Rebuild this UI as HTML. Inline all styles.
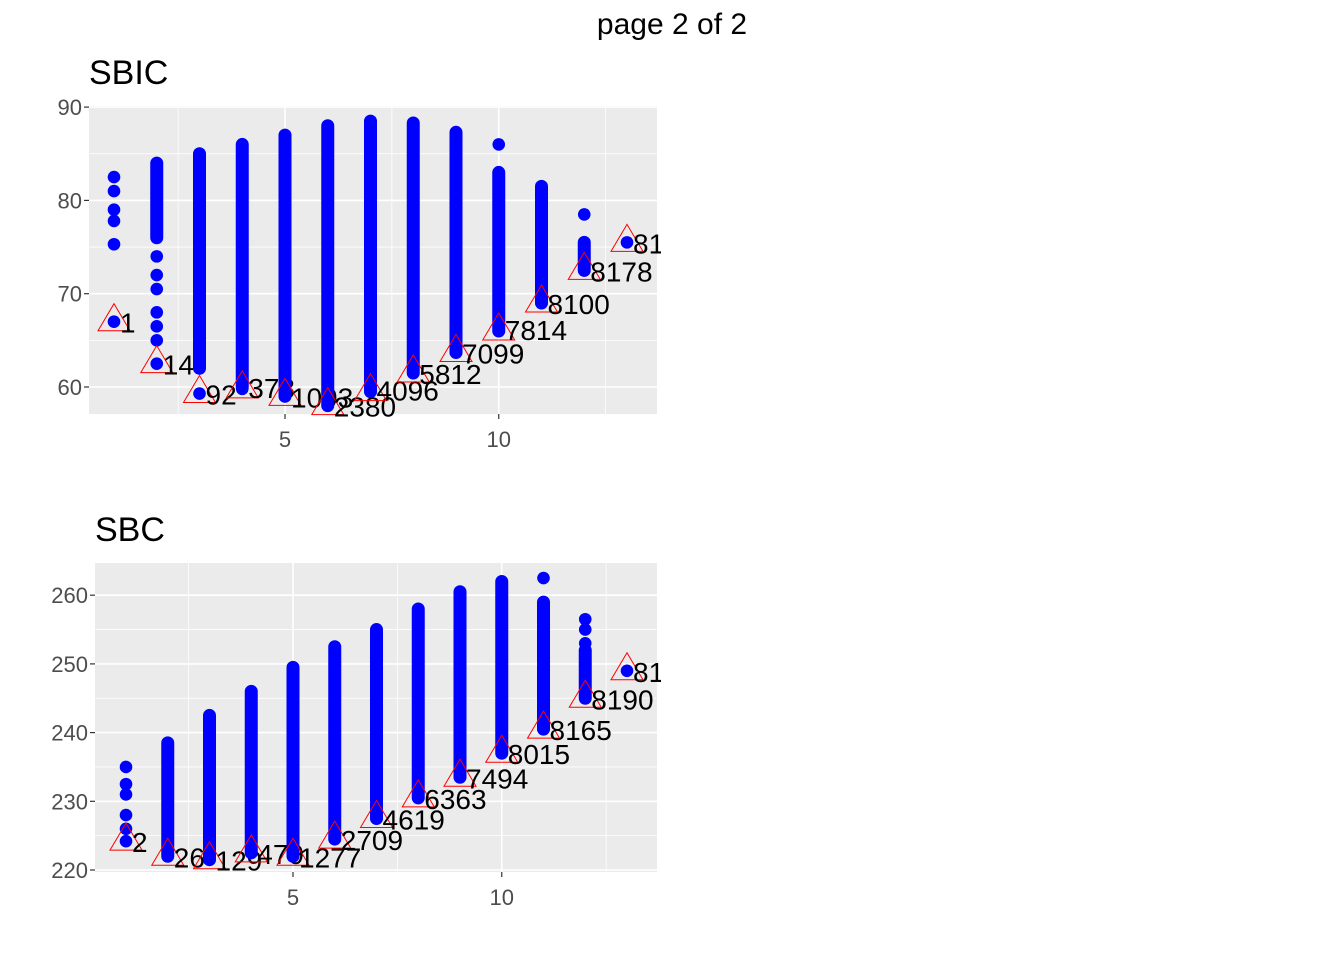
<!DOCTYPE html>
<html><head><meta charset="utf-8"><style>
body{margin:0;background:#fff}
svg{display:block;font-family:"Liberation Sans",Arial,sans-serif}
</style></head><body>
<svg id="s" width="1344" height="960" xmlns="http://www.w3.org/2000/svg">
<text x="672" y="34" text-anchor="middle" font-size="30">page 2 of 2</text>
</svg>
<script>
// SBIC panel data
const sbicX=[1,2,3,4,5,6,7,8,9,10,11,12,13];
const sbicMin=[67,62.5,59.3,59.8,59,58,59.5,61.5,63.7,66,69,72.5,75.5];
const sbicDenseLo=[null,76,62,60,59,58,59.5,61.5,63.7,66,69,72.5,null];
const sbicDenseHi=[null,84,85,86,87,88,88.5,88.3,87.3,83,81.5,75.5,null];
const sbicExtra=[[82.5,81,79,77.8,75.3],[65,66.5,68,70.5,72,74],[],[],[],[],[],[],[],[86],[],[78.5],[]];
const sbicLabels=["1","14","92","378","1093","2380","4096","5812","7099","7814","8100","8178","81"];
const sbicLabelDy=[0,0,0,-2,0,0,-2,0,0,-2,0,0,0];
const sbicYTicks=[60,70,80,90];
const xTicks=[5,10];
// SBC panel data
const sbcX=[1,2,3,4,5,6,7,8,9,10,11,12,13];
const sbcMin=[224.2,222,221.5,222.5,222,224.5,227.5,230.5,233.5,237,240.5,245,249];
const sbcDenseLo=[null,222,221.5,222.5,222,224.5,227.5,230.5,233.5,237,240.5,245,null];
const sbcDenseHi=[null,238.5,242.5,246,249.5,252.5,255,258,260.5,262,259,252,null];
const sbcExtra=[[235,232.5,231,228,226],[],[],[],[],[],[],[],[],[],[262.5],[256.5,255,253,251],[]];
const sbcLabels=["2","26","129","479","1277","2709","4619","6363","7494","8015","8165","8190","81"];
const sbcLabelDy=[0,0,0,0,0,0,0,0,0,0,0,0,0];
const sbcYTicks=[220,230,240,250,260];

const NS="http://www.w3.org/2000/svg";
const svg=document.getElementById('s');
function mk(t,a,p){const e=document.createElementNS(NS,t);for(const k in a)e.setAttribute(k,a[k]);(p||svg).appendChild(e);return e;}

function panel(o){
  const g=mk('g',{});
  
  
  const X=v=>o.x1+(v-1)*o.xs;
  const Y=v=>o.yb-(v-o.yv)*o.ys;
  const bg=mk('rect',{x:o.L,y:o.T,width:o.R-o.L,height:o.B-o.T,fill:'#ebebeb'},g);
  
  
  for(let v=2.5;v<=12.5;v+=5){mk('line',{x1:X(v),x2:X(v),y1:o.T,y2:o.B,stroke:'#fff','stroke-width':0.8},g);}
  for(let i=0;i<o.yt.length;i++){const v=o.yt[i]+o.minor; if(Y(v)>o.T) mk('line',{x1:o.L,x2:o.R,y1:Y(v),y2:Y(v),stroke:'#fff','stroke-width':0.8},g);}
  const v0=o.yt[0]-o.minor; if(Y(v0)<o.B) mk('line',{x1:o.L,x2:o.R,y1:Y(v0),y2:Y(v0),stroke:'#fff','stroke-width':0.8},g);
  xTicks.forEach(v=>{
    mk('line',{x1:X(v),x2:X(v),y1:o.T,y2:o.B,stroke:'#fff','stroke-width':1.6},g);
    mk('line',{x1:X(v),x2:X(v),y1:o.B,y2:o.B+5,stroke:'#333','stroke-width':1.2},g);
    const t=mk('text',{x:X(v),y:o.B+33,'text-anchor':'middle','font-size':22,fill:'#4d4d4d'},g);t.textContent=v;
    
    
  });
  o.yt.forEach(v=>{
    mk('line',{x1:o.L,x2:o.R,y1:Y(v),y2:Y(v),stroke:'#fff','stroke-width':1.6},g);
    mk('line',{x1:o.L-5,x2:o.L,y1:Y(v),y2:Y(v),stroke:'#333','stroke-width':1.2},g);
    const t=mk('text',{x:o.L-7,y:Y(v)+8,'text-anchor':'end','font-size':22,fill:'#4d4d4d'},g);t.textContent=v;
    
    
  });
  const clipId='c'+o.name;
  const cp=mk('clipPath',{id:clipId},g);mk('rect',{x:o.L,y:o.T-40,width:o.R-o.L+4,height:o.B-o.T+60},cp);
  const pg=mk('g',{'clip-path':'url(#'+clipId+')'},g);
  o.xs_.forEach((xv,i)=>{
    const cx=X(xv);
    if(o.lo[i]!==null){
      const l=mk('line',{x1:cx,x2:cx,y1:Y(o.lo[i]),y2:Y(o.hi[i]),stroke:'#0000ff','stroke-width':13,'stroke-linecap':'round'},pg);
      
      
    }
    o.ex[i].forEach(v=>{
      const c=mk('circle',{cx:cx,cy:Y(v),r:6.3,fill:'#0000ff'},pg);
      
      
    });
    const py=Y(o.mn[i]);
    const c=mk('circle',{cx:cx,cy:py,r:6.3,fill:'#0000ff'},pg);
    
    
    const tr=mk('polygon',{points:`${cx},${py-18} ${cx-16},${py+9} ${cx+16},${py+9}`,fill:'none',stroke:'#ff0000','stroke-width':1},pg);
    
    
    const t=mk('text',{x:cx+6,y:py+11+o.ldy[i],'font-size':28,fill:'#000'},pg);t.textContent=o.lab[i];
    
    
  });
  const tt=mk('text',{x:o.L,y:o.T-22,'font-size':34,fill:'#000'},g);tt.textContent=o.title;
  
  
}
panel({name:'sbic',title:'SBIC',L:89,R:657,T:106,B:414,x1:114,xs:42.75,yv:60,yb:387,ys:9.33,minor:5,
  yt:sbicYTicks,xs_:sbicX,mn:sbicMin,lo:sbicDenseLo,hi:sbicDenseHi,ex:sbicExtra,lab:sbicLabels,ldy:sbicLabelDy});
panel({name:'sbc',title:'SBC',L:95,R:657,T:563,B:872,x1:126,xs:41.75,yv:220,yb:870,ys:6.87,minor:5,
  yt:sbcYTicks,xs_:sbcX,mn:sbcMin,lo:sbcDenseLo,hi:sbcDenseHi,ex:sbcExtra,lab:sbcLabels,ldy:sbcLabelDy});
</script>
</body></html>
